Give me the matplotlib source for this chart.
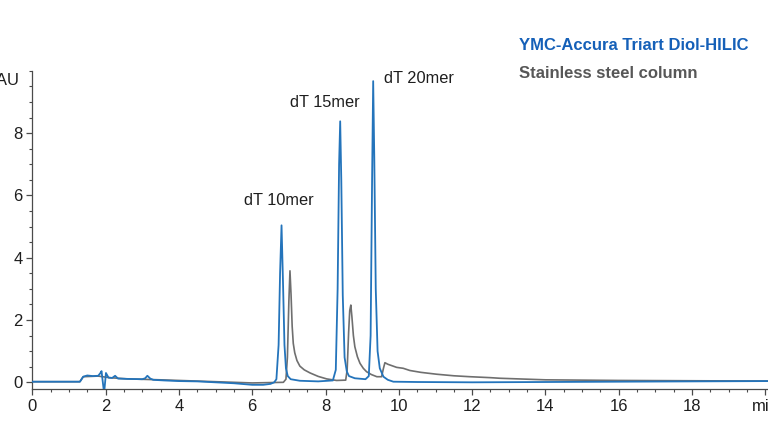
import matplotlib
matplotlib.use("Agg")
import matplotlib.pyplot as plt
from matplotlib.ticker import MultipleLocator

plt.rcParams['font.family'] = ['Liberation Sans', 'DejaVu Sans']

# Blue trace: YMC-Accura Triart Diol-HILIC (time min, mAU)
blue_t = [0.0, 1.0, 1.30, 1.39, 1.50, 1.65, 1.80, 1.86, 1.89, 1.92, 1.96, 2.01, 2.08,
          2.18, 2.26, 2.34, 2.60, 3.00, 3.08, 3.14, 3.22, 3.30, 3.60, 4.00, 4.50,
          5.00, 5.50, 6.00, 6.30, 6.50, 6.60, 6.66, 6.72, 6.76, 6.80, 6.84, 6.88,
          6.92, 6.97, 7.05, 7.30, 7.80, 8.20, 8.28, 8.33, 8.37, 8.40, 8.43, 8.47,
          8.52, 8.58, 8.64, 8.80, 9.09, 9.18, 9.23, 9.27, 9.30, 9.33, 9.37, 9.42,
          9.48, 9.58, 9.70, 9.85, 10.5, 12.0, 14.0, 16.0, 18.0, 20.07]
blue_v = [0.02, 0.02, 0.02, 0.18, 0.22, 0.20, 0.21, 0.30, 0.36, 0.05, -0.35, 0.30, 0.15,
          0.14, 0.21, 0.12, 0.11, 0.10, 0.13, 0.21, 0.12, 0.08, 0.06, 0.04, 0.03,
          0.00, -0.03, -0.08, -0.08, -0.05, 0.00, 0.10, 1.20, 3.50, 5.04, 3.20, 1.20,
          0.45, 0.20, 0.10, 0.05, 0.03, 0.06, 0.40, 3.00, 7.00, 8.38, 6.50, 2.80,
          0.80, 0.35, 0.20, 0.13, 0.10, 0.20, 1.50, 6.50, 9.67, 7.20, 3.00, 1.00,
          0.45, 0.18, 0.08, 0.02, 0.01, 0.00, 0.01, 0.02, 0.03, 0.04]

# Grey trace: stainless steel column (time min, mAU)
grey_t = [0.0, 1.30, 1.39, 1.80, 2.10, 2.60, 3.50, 4.50, 5.50, 6.00, 6.85, 6.92,
          6.96, 7.00, 7.03, 7.06, 7.09, 7.12, 7.16, 7.22, 7.30, 7.42, 7.58, 7.80,
          8.03, 8.30, 8.55, 8.59, 8.63, 8.66, 8.69, 8.72, 8.76, 8.80, 8.87, 8.94,
          9.03, 9.12, 9.25, 9.40, 9.53, 9.58, 9.62, 9.70, 9.94, 10.12, 10.30, 10.60,
          11.03, 11.50, 11.94, 12.49, 12.76, 14.0, 16.0, 18.0, 20.07]
grey_v = [0.02, 0.02, 0.18, 0.20, 0.15, 0.11, 0.08, 0.04, 0.00, -0.02, 0.00, 0.10,
          0.80, 2.60, 3.58, 2.80, 1.80, 1.25, 0.95, 0.70, 0.52, 0.40, 0.30, 0.19,
          0.11, 0.06, 0.07, 0.40, 1.60, 2.30, 2.48, 2.10, 1.50, 1.14, 0.82, 0.61,
          0.45, 0.34, 0.25, 0.18, 0.18, 0.45, 0.63, 0.58, 0.48, 0.45, 0.38, 0.32,
          0.26, 0.21, 0.18, 0.15, 0.13, 0.08, 0.06, 0.05, 0.04]

peak_labels = ["dT 10mer", "dT 15mer", "dT 20mer"]
peak_label_t = [6.73, 7.99, 10.55]
peak_label_v = [5.84, 8.97, 9.75]

xtick_vals = [0, 2, 4, 6, 8, 10, 12, 14, 16, 18, 20]
xtick_labels = ["0", "2", "4", "6", "8", "10", "12", "14", "16", "18", "min"]
ytick_vals = [0, 2, 4, 6, 8]

legend_texts = ["YMC-Accura Triart Diol-HILIC", "Stainless steel column"]

BLUE = "#2474bb"
GREY = "#6f6f6f"
AXIS = "#4a4a4a"

fig = plt.figure(figsize=(7.68, 4.32), dpi=100)
ax = fig.add_axes([0.042, 0.0995, 0.958, 0.7365])

ax.plot(grey_t, grey_v, color=GREY, lw=1.2, zorder=2)
ax.plot(blue_t, blue_v, color=BLUE, lw=1.3, zorder=3)

ax.set_xlim(0, 20.07)
ax.set_ylim(-0.215, 10.0)

for s in ["top", "right"]:
    ax.spines[s].set_visible(False)
for s in ["left", "bottom"]:
    ax.spines[s].set_color(AXIS)
    ax.spines[s].set_linewidth(0.9)

ax.set_xticks(xtick_vals)
ax.set_xticklabels(xtick_labels)
ax.set_yticks(ytick_vals)
ax.xaxis.set_minor_locator(MultipleLocator(0.5))
ax.yaxis.set_minor_locator(MultipleLocator(0.5))
ax.tick_params(which="major", length=4, width=0.9, color=AXIS, labelsize=12,
               labelcolor="#1e1e1e", pad=3)
ax.tick_params(which="minor", length=2.5, width=0.8, color=AXIS)

ax.text(-0.35, 9.69, "mAU", ha="right", va="center", fontsize=12, color="#1e1e1e")

for lab, t, v in zip(peak_labels, peak_label_t, peak_label_v):
    ax.text(t, v, lab, ha="center", va="center", fontsize=11.8, color="#1e1e1e")

fig.text(519 / 768, 1 - 45 / 432, legend_texts[0], ha="left", va="center",
         fontsize=12, fontweight="bold", color="#1560b8")
fig.text(519 / 768, 1 - 73 / 432, legend_texts[1], ha="left", va="center",
         fontsize=12, fontweight="bold", color="#575757")

fig.savefig("out.png", dpi=100)
